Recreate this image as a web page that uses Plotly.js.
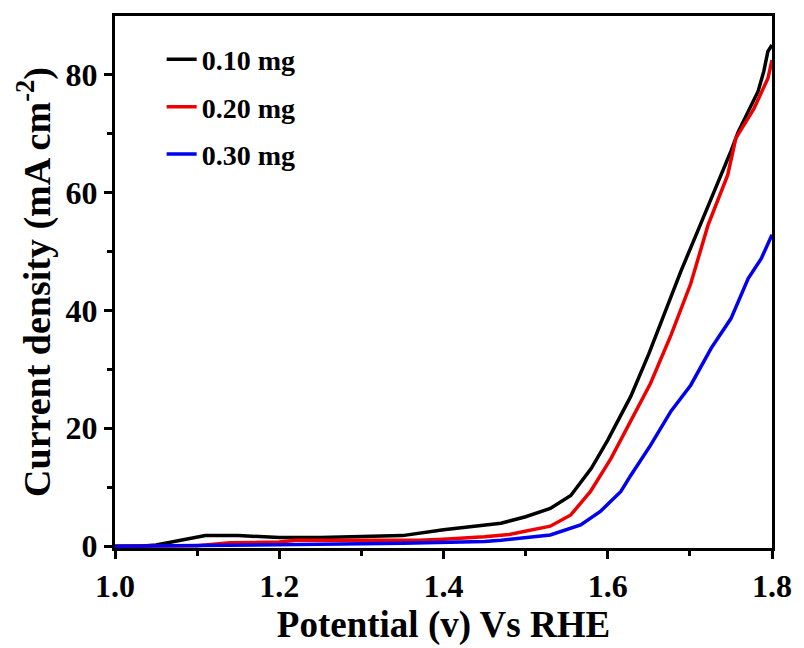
<!DOCTYPE html>
<html>
<head>
<meta charset="utf-8">
<script src="https://cdn.plot.ly/plotly-3.0.1.min.js"></script>
<style>html,body{margin:0;padding:0;background:#fff;}#chart{width:804px;height:648px;}</style>
</head>
<body>
<div id="chart"></div>
<script>
const seriesNames = ["0.10 mg", "0.20 mg", "0.30 mg"];
const seriesColors = ["#000000", "#ee0000", "#0000ee"];

const potential010 = [1.00,1.03,1.05,1.08,1.11,1.15,1.18,1.20,1.25,1.30,1.35,1.40,1.45,1.47,1.50,1.53,1.555,1.58,1.60,1.628,1.65,1.668,1.689,1.71,1.728,1.75,1.759,1.783,1.79,1.795,1.80];
const current010   = [0,0,0.2,1.0,1.8,1.8,1.7,1.5,1.5,1.6,1.8,2.8,3.5,3.9,5.0,6.4,8.6,13.2,18,25.4,32.6,39.2,46.6,53.6,59.5,67,70.3,77.1,80.5,83.9,85];

const potential020 = [1.00,1.10,1.14,1.20,1.22,1.30,1.37,1.40,1.45,1.48,1.53,1.555,1.579,1.604,1.628,1.652,1.677,1.701,1.722,1.746,1.756,1.778,1.795,1.80];
const current020   = [0,0.1,0.6,0.7,1.0,1.0,1.0,1.2,1.6,2.0,3.4,5.3,9.3,14.9,21.2,27.6,35.8,44.5,54.4,62.9,69.2,74.2,79.3,82.4];

const potential030 = [1.00,1.10,1.15,1.20,1.30,1.35,1.40,1.45,1.47,1.53,1.567,1.591,1.616,1.628,1.652,1.677,1.701,1.726,1.75,1.766,1.771,1.787,1.80];
const current030   = [0,0.1,0.2,0.3,0.4,0.5,0.6,0.8,1.0,1.9,3.6,5.9,9.3,12.0,17.1,22.9,27.3,33.6,38.6,43.7,45.4,48.8,52.8];

const xs = [potential010, potential020, potential030];
const ys = [current010, current020, current030];

const fontFam = "Liberation Serif, Times New Roman, serif";

const traces = xs.map((x, i) => ({
  x: x, y: ys[i], type: "scatter", mode: "lines",
  name: "<b>" + seriesNames[i] + "</b>",
  legendgroup: "g" + i,
  line: {color: seriesColors[i], width: 3.5}
}));

const axisCommon = {
  showline: true, linecolor: "#000", linewidth: 3, mirror: true,
  ticks: "outside", ticklen: 8, tickwidth: 3, tickcolor: "#000",
  showgrid: false, zeroline: false,
  tickfont: {family: fontFam, size: 32, color: "#000", weight: "bold"}
};

const layout = {
  width: 804, height: 648,
  margin: {l: 115, r: 32, t: 16, b: 100},
  paper_bgcolor: "#fff", plot_bgcolor: "#fff",
  showlegend: true,
  legend: {
    x: 0.071, y: 0.965, xanchor: "left", yanchor: "top",
    bgcolor: "rgba(0,0,0,0)", borderwidth: 0,
    tracegroupgap: 8,
    font: {family: fontFam, size: 28, color: "#000", weight: "bold"}
  },
  xaxis: Object.assign({}, axisCommon, {
    range: [1.0, 1.8], dtick: 0.2, tick0: 1.0, tickformat: ".1f",
    minor: {dtick: 0.1, ticks: "outside", ticklen: 5, tickwidth: 3, tickcolor: "#000", showgrid: false},
    title: {text: "<b>Potential (v) Vs RHE</b>", font: {family: fontFam, size: 37, color: "#000"}, standoff: 6}
  }),
  yaxis: Object.assign({}, axisCommon, {
    range: [-0.3, 89.9], dtick: 20, tick0: 0,
    minor: {dtick: 10, ticks: "outside", ticklen: 5, tickwidth: 3, tickcolor: "#000", showgrid: false},
    title: {text: "<b>Current density (mA cm<sup>-2</sup>)</b>", font: {family: fontFam, size: 38, color: "#000"}, standoff: 4}
  })
};

Plotly.newPlot("chart", traces, layout, {displayModeBar: false, staticPlot: true});
</script>
</body>
</html>
